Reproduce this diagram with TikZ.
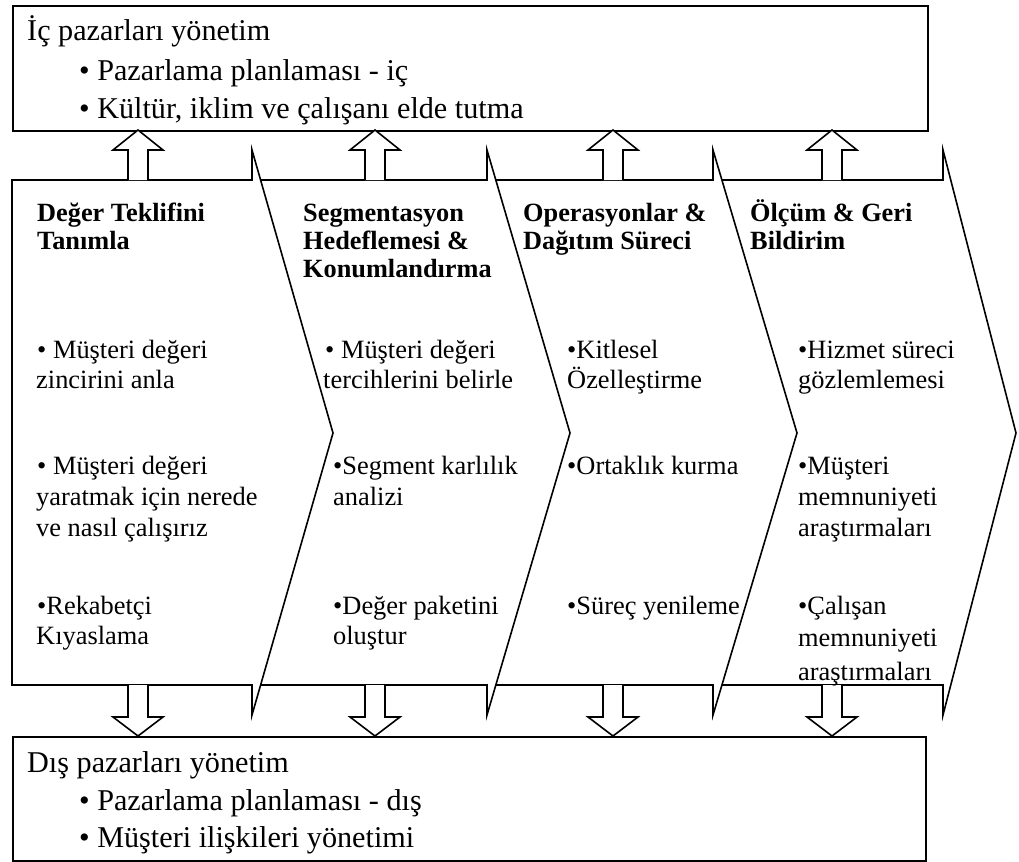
\documentclass[tikz,border=0pt]{standalone}
\usepackage{fontspec}
\setmainfont{Liberation Serif}
\begin{document}
\begin{tikzpicture}[x=1bp,y=-1bp,
  frame/.style={draw,line width=1.8bp,inner sep=0pt,anchor=north west},
  stage/.style={draw,fill=white,line width=1.6bp},
  blockline/.style={draw,fill=white,line width=1.6bp},
  boxtext/.style={anchor=base west,inner sep=0pt,font=\fontsize{30.3}{34}\selectfont},
  head/.style={anchor=base west,inner sep=0pt,font=\fontsize{26.4}{28}\selectfont\bfseries},
  item/.style={anchor=base west,inner sep=0pt,font=\fontsize{26.5}{29}\selectfont},
  uparr/.pic={\path[blockline] (-10,50) -- (-10,20) -- (-25,20) -- (0,0) -- (25,20) -- (10,20) -- (10,50);},
  dnarr/.pic={\path[blockline] (-10,-51) -- (-10,-19) -- (-25,-19) -- (0,0) -- (25,-19) -- (10,-19) -- (10,-51);},
]
\useasboundingbox (0,0) rectangle (1019,862);

% the four process stages, drawn right to left so each head covers the next body
\path[stage] (713,180) -- (943,180) -- (943,150) -- (1016,433) -- (943,715) -- (943,685) -- (713,685) -- cycle;
\path[stage] (487,180) -- (713,180) -- (713,150) -- (797,433) -- (713,715) -- (713,685) -- (487,685) -- cycle;
\path[stage] (252,180) -- (487,180) -- (487,150) -- (570,433) -- (487,715) -- (487,685) -- (252,685) -- cycle;
\path[stage] (12,180) -- (252,180) -- (252,150) -- (333,433) -- (252,715) -- (252,685) -- (12,685) -- cycle;

% internal and external market boxes
\node[frame,minimum width=915bp,minimum height=125bp] (ic) at (12,5) {};
\node[frame,minimum width=913bp,minimum height=124bp] (dis) at (12,736) {};

% hollow arrows from each stage to the two boxes
\foreach \c [count=\i] in {138,375,613,832}{
  \coordinate (up\i) at (\c,130);
  \coordinate (dn\i) at (\c,736);
  \pic at (up\i) {uparr};
  \pic at (dn\i) {dnarr};
}

% box texts
\node[boxtext] (ic1) at (27,40) {İç pazarları yönetim};
\node[boxtext] (ic2) at (79,80) {• Pazarlama planlaması - iç};
\node[boxtext] (ic3) at (79,118) {• Kültür, iklim ve çalışanı elde tutma};
\node[boxtext] (dis1) at (27,772) {Dış pazarları yönetim};
\node[boxtext] (dis2) at (79,810) {• Pazarlama planlaması - dış};
\node[boxtext] (dis3) at (79,847) {• Müşteri ilişkileri yönetimi};

% stage titles
\node[head] (h11) at (37,221) {Değer Teklifini};
\node[head] (h12) at (37,249) {Tanımla};
\node[head] (h21) at (303,221) {Segmentasyon};
\node[head] (h22) at (303,249) {Hedeflemesi \&};
\node[head] (h23) at (303,277) {Konumlandırma};
\node[head] (h31) at (523,221) {Operasyonlar \&};
\node[head] (h32) at (523,249) {Dağıtım Süreci};
\node[head] (h41) at (750,221) {Ölçüm \& Geri};
\node[head] (h42) at (750,249) {Bildirim};

% stage 1 items
\node[item] (a1) at (37,358) {• Müşteri değeri};
\node[item] (a2) at (36,388) {zincirini anla};
\node[item] (a3) at (37,474) {• Müşteri değeri};
\node[item] (a4) at (36,505) {yaratmak için nerede};
\node[item] (a5) at (36,536) {ve nasıl çalışırız};
\node[item] (a6) at (37,614) {•Rekabetçi};
\node[item] (a7) at (36,644) {Kıyaslama};

% stage 2 items
\node[item] (b1) at (325,358) {• Müşteri değeri};
\node[item] (b2) at (323,388) {tercihlerini belirle};
\node[item] (b3) at (333,474) {•Segment karlılık};
\node[item] (b4) at (333,505) {analizi};
\node[item] (b5) at (333,614) {•Değer paketini};
\node[item] (b6) at (333,644) {oluştur};

% stage 3 items
\node[item] (c1) at (567,358) {•Kitlesel};
\node[item] (c2) at (567,388) {Özelleştirme};
\node[item] (c3) at (567,474) {•Ortaklık kurma};
\node[item] (c4) at (567,614) {•Süreç yenileme};

% stage 4 items
\node[item] (d1) at (798,358) {•Hizmet süreci};
\node[item] (d2) at (798,388) {gözlemlemesi};
\node[item] (d3) at (798,474) {•Müşteri};
\node[item] (d4) at (798,505) {memnuniyeti};
\node[item] (d5) at (798,536) {araştırmaları};
\node[item] (d6) at (798,614) {•Çalışan};
\node[item] (d7) at (798,646) {memnuniyeti};
\node[item] (d8) at (798,680) {araştırmaları};
\end{tikzpicture}
\end{document}
